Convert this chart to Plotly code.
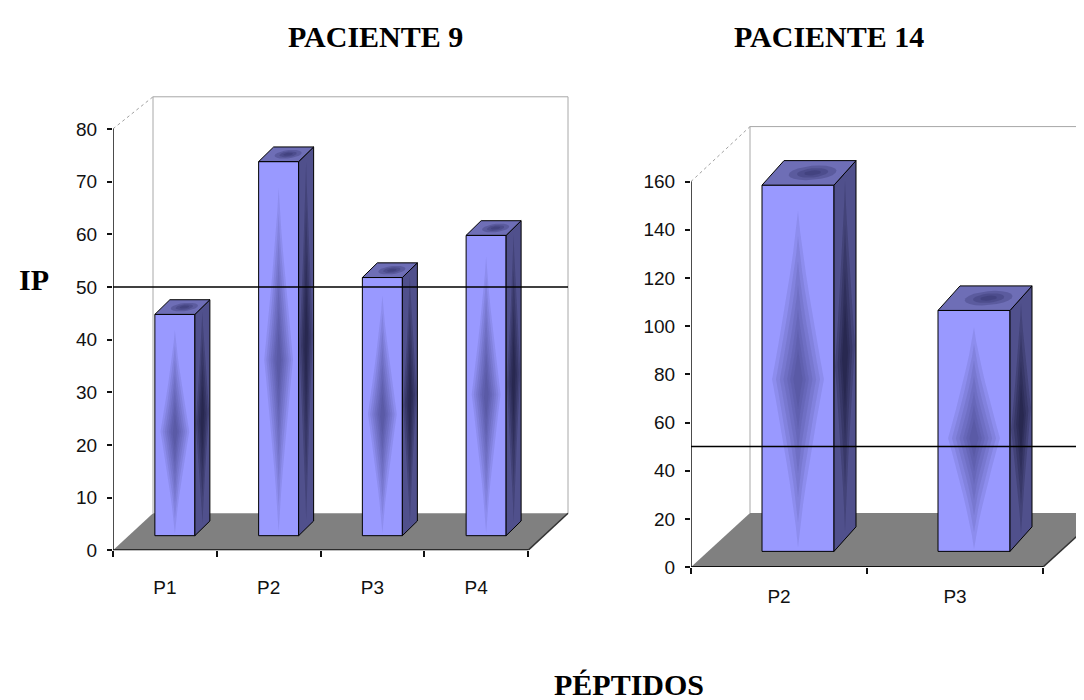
import math
import plotly.graph_objects as go

# ---------------- data ----------------
p9_categories = ["P1", "P2", "P3", "P4"]
p9_values = [42, 71, 49, 57]
p9_ticks = [0, 10, 20, 30, 40, 50, 60, 70, 80]

p14_categories = ["P2", "P3"]
p14_values = [152, 100]
p14_ticks = [0, 20, 40, 60, 80, 100, 120, 140, 160]

threshold = 50

titles = ["PACIENTE 9", "PACIENTE 14"]
y_title = "IP"
x_title = "PÉPTIDOS"

# ---------------- styling / geometry (pixels) ----------------
W, H = 1084, 700
FRONT = "#9999ff"
SIDE = "#50508c"
TOP = "#6e6eb6"
DARK = "#2a2a60"
FLOOR = "#808080"
TICKFONT = dict(family="Liberation Sans, Arial", size=19, color="#111")
TITLEFONT = dict(family="Liberation Serif, Times New Roman, serif", size=30, color="black", weight="bold")

panels = [
    dict(cats=p9_categories, vals=p9_values, ticks=p9_ticks, x0=105, cat=103.75, y0=551, pxu=5.39,
         depth=(40, 38), top=87, right=562, off=(10, 15), half=20, side=(15, 15), standoff=24),
    dict(cats=p14_categories, vals=p14_values, ticks=p14_ticks, x0=683, cat=176.0, y0=568, pxu=2.456,
         depth=(59, 55), top=119, right=1084, off=(19, 16), half=36, side=(22, 25), standoff=16),
]

fig = go.Figure()
shapes = []


def poly(xs, ys, color, xa, ya, opacity=1.0, line=None):
    fig.add_trace(go.Scatter(
        x=list(xs) + [xs[0]], y=list(ys) + [ys[0]], xaxis=xa, yaxis=ya,
        mode="lines", fill="toself", fillcolor=color, opacity=opacity,
        line=dict(color=line or color, width=1 if line else 0),
        hoverinfo="skip", showlegend=False))


def spindle(cu, ch, a, b, m=16, p=1.2):
    # pointed lens shape: half-width a*(1-|t|)^p along the vertical
    right, left = [], []
    for j in range(m + 1):
        t = -1 + 2 * j / m
        w = a * (1 - abs(t)) ** p
        right.append((cu + w, ch + b * t))
        left.append((cu - w, ch + b * t))
    return right + left[::-1]


for k, p in enumerate(panels):
    sfx = "" if k == 0 else str(k + 1)
    xa, ya = "x" + sfx, "y" + sfx
    n = len(p["cats"])
    ymax = p["ticks"][-1]
    xr_max = -0.5 + (p["right"] - p["x0"]) / p["cat"]
    wall_top = (p["y0"] - p["top"]) / p["pxu"]
    ddx = p["depth"][0] / p["cat"]
    ddy = p["depth"][1] / p["pxu"]
    bx = p["off"][0] / p["cat"]
    by = p["off"][1] / p["pxu"]
    bw = 2 * p["half"] / p["cat"]
    sdx = p["side"][0] / p["cat"]
    sdy = p["side"][1] / p["pxu"]

    ref = dict(xref=xa, yref=ya)
    L, R = -0.5, n - 0.5
    # floor
    shapes.append(dict(type="path", path=f"M {L},0 L {R},0 L {R+ddx},{ddy} L {L+ddx},{ddy} Z",
                       fillcolor=FLOOR, line=dict(width=0), layer="below", **ref))
    # back wall outline
    shapes.append(dict(type="path", path=f"M {L+ddx},{ddy} L {L+ddx},{wall_top} L {R+ddx},{wall_top} L {R+ddx},{ddy}",
                       line=dict(color="#a8a8a8", width=1), layer="below", **ref))
    # left top diagonal
    shapes.append(dict(type="line", x0=L, y0=ymax, x1=L + ddx, y1=wall_top,
                       line=dict(color="#a0a0a0", width=1, dash="dot"), layer="below", **ref))
    # floor right edge
    shapes.append(dict(type="line", x0=R, y0=0, x1=R + ddx, y1=ddy,
                       line=dict(color="#333333", width=1.5), layer="below", **ref))
    # axes lines
    shapes.append(dict(type="line", x0=L, y0=0, x1=L, y1=ymax, line=dict(color="#111", width=1.5), **ref))
    shapes.append(dict(type="line", x0=L, y0=0, x1=R, y1=0, line=dict(color="#111", width=2), **ref))
    # threshold line
    shapes.append(dict(type="line", x0=L, y0=threshold, x1=min(R + ddx, xr_max), y1=threshold,
                       line=dict(color="black", width=1.5), layer="above", **ref))

    # front faces (real bars)
    xs = [i + bx for i in range(n)]
    fig.add_trace(go.Bar(x=xs, y=p["vals"], base=by, width=bw, xaxis=xa, yaxis=ya,
                         marker=dict(color=FRONT, line=dict(color="black", width=1)),
                         hoverinfo="skip", showlegend=False))

    for i, v in enumerate(p["vals"]):
        xl = i + bx - bw / 2
        xr = i + bx + bw / 2
        yt = by + v
        # front face shading
        cx, cy = i + bx, by + 0.47 * v
        for s in [1.0, 0.85, 0.7, 0.56, 0.42, 0.3, 0.18]:
            pts = spindle(cx, cy, bw * 0.36 * s, v * 0.46 * s)
            poly([q[0] for q in pts], [q[1] for q in pts], DARK, xa, ya, opacity=0.11)
        # side face
        poly([xr, xr + sdx, xr + sdx, xr], [by, by + sdy, yt + sdy, yt], SIDE, xa, ya, line="black")
        for s in [1.0, 0.75, 0.5, 0.3]:
            pts = spindle(0.5, 0.5 * v, 0.45 * s, 0.48 * v * s)
            poly([xr + u * sdx for u, h in pts], [by + u * sdy + h for u, h in pts], "#10102a", xa, ya, opacity=0.2)
        # top face
        poly([xl, xl + sdx, xr + sdx, xr], [yt, yt + sdy, yt + sdy, yt], TOP, xa, ya, line="black")
        for s in [1.0, 0.65, 0.35]:
            pts = [(0.55 + 0.32 * s * math.cos(2 * math.pi * j / 20), 0.5 + 0.3 * s * math.sin(2 * math.pi * j / 20))
                   for j in range(20)]
            poly([xl + u * bw + d * sdx for u, d in pts], [yt + d * sdy for u, d in pts], DARK, xa, ya, opacity=0.28)

    xaxis = dict(domain=[p["x0"] / W, p["right"] / W], range=[-0.5, xr_max], anchor=ya,
                 tickvals=list(range(n)), ticktext=p["cats"], ticks="", showline=False,
                 showgrid=False, zeroline=False, tickfont=TICKFONT, ticklabelstandoff=p["standoff"],
                 minor=dict(tickvals=[j - 0.5 for j in range(n + 1)], ticks="outside", ticklen=6,
                            tickcolor="#111", tickwidth=1.5, showgrid=False))
    yaxis = dict(domain=[1 - p["y0"] / H, 1 - p["top"] / H], range=[0, wall_top + 0.6], anchor=xa,
                 tickvals=p["ticks"], ticks="outside", ticklen=5, tickcolor="#111", tickwidth=1.5,
                 ticklabelstandoff=6,
                 showline=False, showgrid=False, zeroline=False, tickfont=TICKFONT)
    fig.layout["xaxis" + sfx] = xaxis
    fig.layout["yaxis" + sfx] = yaxis

annotations = [
    dict(text=titles[0], x=367 / W, y=1 - 29 / H),
    dict(text=titles[1], x=821 / W, y=1 - 29 / H),
    dict(text=y_title, x=26 / W, y=1 - 276 / H),
    dict(text=x_title, x=621 / W, y=1 - 687 / H),
]
for a in annotations:
    a.update(xref="paper", yref="paper", showarrow=False, xanchor="center", yanchor="middle", font=TITLEFONT)

fig.update_layout(width=W, height=H, margin=dict(l=0, r=0, t=0, b=0), barmode="overlay",
                  plot_bgcolor="white", paper_bgcolor="white", shapes=shapes, annotations=annotations,
                  showlegend=False)

fig.write_html("out.html")
